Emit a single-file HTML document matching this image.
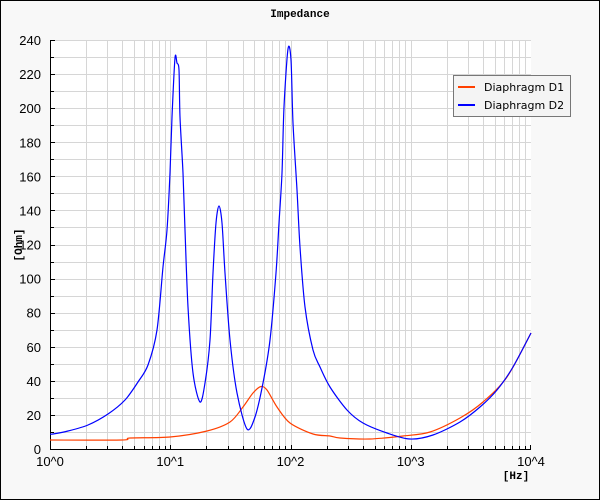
<!DOCTYPE html>
<html><head><style>body{margin:0;background:#fff}svg{display:block}</style></head><body>
<svg width="600" height="500" xmlns="http://www.w3.org/2000/svg">
<rect x="0.5" y="0.5" width="599" height="499" fill="#f8f8f8" stroke="#000"/>
<rect x="50" y="40" width="481" height="409" fill="#fff"/>
<g id="grid" stroke="#d6d6d6" stroke-width="1"></g>
<g id="ticks" stroke="#000" stroke-width="1"></g>
<line x1="50.5" y1="40" x2="50.5" y2="450" stroke="#000"/>
<line x1="50" y1="449.5" x2="531" y2="449.5" stroke="#000"/>
<path id="red" fill="none" stroke="#ff4000" stroke-width="1.2"/>
<path id="blue" fill="none" stroke="#0000ff" stroke-width="1.2"/>
<g font-family="'Liberation Sans',sans-serif" font-size="13" fill="#000" id="labels"></g>
<text x="300" y="17" text-anchor="middle" font-family="'Liberation Mono',monospace" font-weight="bold" font-size="11">Impedance</text>
<text transform="translate(22,245) rotate(-90)" text-anchor="middle" font-family="'Liberation Mono',monospace" font-weight="bold" font-size="11">[Ohm]</text>
<text x="516" y="479" text-anchor="middle" font-family="'Liberation Mono',monospace" font-weight="bold" font-size="11">[Hz]</text>
<rect x="453.5" y="75.5" width="117" height="41" fill="#f4f4f4" stroke="#777"/>
<line x1="458" y1="87" x2="475" y2="87" stroke="#ff4000" stroke-width="2"/>
<line x1="458" y1="105" x2="475" y2="105" stroke="#0000ff" stroke-width="2"/>
<text x="484" y="91" font-family="'DejaVu Sans','Liberation Sans',sans-serif" font-size="11">Diaphragm D1</text>
<text x="484" y="109" font-family="'DejaVu Sans','Liberation Sans',sans-serif" font-size="11">Diaphragm D2</text>
</svg>
<script>
var g=document.getElementById('grid'),t=document.getElementById('ticks'),L=document.getElementById('labels'),ns='http://www.w3.org/2000/svg';
function ln(p,x1,y1,x2,y2){var e=document.createElementNS(ns,'line');e.setAttribute('x1',x1);e.setAttribute('y1',y1);e.setAttribute('x2',x2);e.setAttribute('y2',y2);p.appendChild(e);}
function tx(x,y,s,a){var e=document.createElementNS(ns,'text');e.setAttribute('x',x);e.setAttribute('y',y);e.setAttribute('text-anchor',a);e.textContent=s;L.appendChild(e);}
var dw=120.25;
for(var d=0;d<4;d++)for(var k=1;k<10;k++){var x=Math.round(50+dw*(d+Math.log10(k)))+0.5;if(!(d==0&&k==1))ln(g,x,40,x,449);ln(t,x,449,x,k==1?445:446);}
ln(t,530.5,449,530.5,445);
for(var v=10;v<=240;v+=10){var y=Math.round(449-v*409/240)+0.5;ln(g,51,y,531,y);ln(t,50,y,v%20==0?55:54,y);}
for(var v=0;v<=240;v+=20){tx(41,449-v*409/240+5,v,'end');}
for(var d=0;d<=4;d++)tx(50+dw*d,466,'10^'+d,'middle');
function cr(s){var p=s.trim().split(/\s+/).map(function(q){return q.split(',').map(Number)});var d='M'+p[0];for(var i=0;i<p.length-1;i++){var a=p[i-1]||p[i],b=p[i],c=p[i+1],e=p[i+2]||c;var f=0.9/6;d+=' C'+(b[0]+(c[0]-a[0])*f)+','+(b[1]+(c[1]-a[1])*f)+' '+(c[0]-(e[0]-b[0])*f)+','+(c[1]-(e[1]-b[1])*f)+' '+c[0]+','+c[1];}return d;}
document.getElementById('red').setAttribute('d',cr("50,440 122,440 130,438 170,437 207,431 230,422 243,407 253,393 261,386.5 267,390 277,407 290,423 313,434 330,436 340,438 370,439 403,436 430,432 460,418 483,402 507,377 531,333"));
document.getElementById('blue').setAttribute('d',cr("50,434 53,434 68,431 88,425 108,414 125,400 138,382 148,365 157,330 163,267 167,230 170,173 172,117 175,58 177,63 179,70 180,117 183,173 185,230 188,307 193,373 200,402 205,383 210,340 213,273 216,223 219,206 222,223 225,273 230,340 237,393 247,429 255,417 263,383 270,340 276,273 279,223 282,173 284,107 288,49 291,60 293,123 297,190 300,247 305,307 313,350 320,367 330,387 347,410 363,423 387,433 410,439 433,435 460,422 480,407 497,390 513,367 531,333"));
</script>
</body></html>
